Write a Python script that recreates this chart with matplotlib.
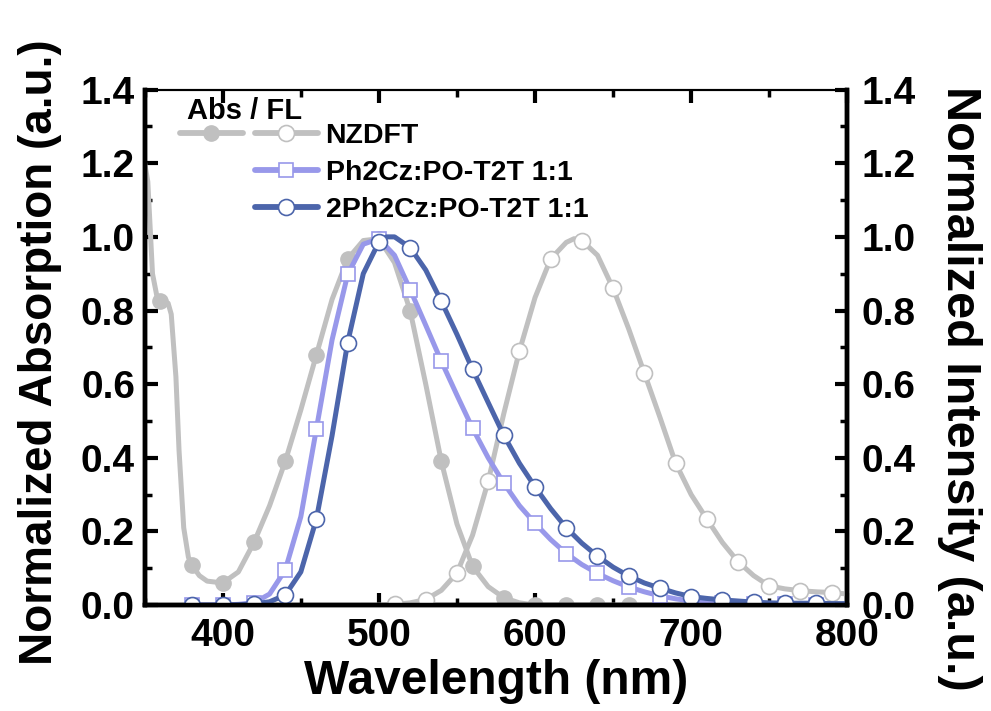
import matplotlib
matplotlib.use("Agg")
import matplotlib.pyplot as plt
from matplotlib.lines import Line2D
from matplotlib.legend_handler import HandlerTuple
from matplotlib.ticker import MultipleLocator
from matplotlib.font_manager import FontProperties, fontManager

plt.rcParams['font.family'] = ['Liberation Sans', 'DejaVu Sans']
plt.rcParams['font.weight'] = 'bold'

# ---- data ----
abs_wl = [350, 352, 355, 358, 360, 365, 367, 370, 372, 375, 378, 380, 385, 390, 400, 410, 420, 430, 440,
          450, 460, 470, 480, 490, 500, 510, 520, 530, 540, 550, 560, 570, 580, 590, 600, 620, 640,
          660, 680, 700, 720, 740, 760, 780, 800]
abs_val = [1.20, 1.15, 0.90, 0.835, 0.825, 0.82, 0.79, 0.62, 0.42, 0.21, 0.13, 0.11, 0.08, 0.065, 0.06, 0.09, 0.17, 0.27, 0.39,
           0.53, 0.68, 0.83, 0.94, 0.99, 0.995, 0.93, 0.80, 0.60, 0.39, 0.22, 0.105, 0.05, 0.02, 0.006, 0.0, 0.0, 0.0,
           0.0, 0.0, 0.0, 0.0, 0.0, 0.0, 0.0, 0.0]
abs_mark_wl = [360, 380, 400, 420, 440, 460, 480, 500, 520, 540, 560, 580, 600, 620, 640, 660, 680, 700, 720, 740, 760, 780]

fl_wl = [490, 500, 510, 520, 530, 540, 550, 560, 570, 580, 590, 600, 610, 620, 625, 630, 640, 650, 660, 670, 680,
         690, 700, 710, 720, 730, 740, 750, 760, 770, 780, 790, 800]
fl_val = [0.0, 0.0, 0.002, 0.006, 0.015, 0.04, 0.087, 0.19, 0.336, 0.52, 0.69, 0.835, 0.94, 0.985, 0.995, 0.99, 0.95, 0.86, 0.75, 0.63, 0.51,
          0.386, 0.30, 0.234, 0.17, 0.118, 0.08, 0.052, 0.044, 0.039, 0.036, 0.034, 0.03]
fl_mark_wl = [510, 530, 550, 570, 590, 610, 630, 650, 670, 690, 710, 730, 750, 770, 790]

ph_wl = [380, 390, 400, 410, 420, 430, 440, 450, 460, 470, 480, 490, 500, 510, 520, 530, 540, 550, 560, 570, 580,
         590, 600, 610, 620, 630, 640, 650, 660, 670, 680, 690, 700, 720, 740, 760, 780]
ph_val = [0.0, 0.0, 0.0, 0.002, 0.006, 0.03, 0.095, 0.24, 0.479, 0.72, 0.898, 0.98, 0.995, 0.95, 0.857, 0.76, 0.662, 0.57, 0.48, 0.40, 0.331,
          0.27, 0.222, 0.178, 0.14, 0.11, 0.086, 0.066, 0.049, 0.036, 0.025, 0.017, 0.011, 0.005, 0.003, 0.002, 0.001]
ph_mark_wl = [380, 400, 420, 440, 460, 480, 500, 520, 540, 560, 580, 600, 620, 640, 660, 680, 700, 720, 740, 760, 780]

dph_wl = [380, 390, 400, 410, 420, 430, 440, 450, 460, 470, 480, 490, 500, 505, 510, 520, 530, 540, 550, 560, 570, 580,
          590, 600, 610, 620, 630, 640, 650, 660, 670, 680, 690, 700, 710, 720, 730, 740, 750, 760, 770, 780, 790, 800]
dph_val = [0.0, 0.0, 0.0, 0.001, 0.003, 0.009, 0.027, 0.09, 0.234, 0.46, 0.713, 0.90, 0.986, 1.0, 1.0, 0.971, 0.91, 0.825, 0.735, 0.64, 0.55, 0.461,
           0.385, 0.321, 0.262, 0.21, 0.168, 0.133, 0.103, 0.079, 0.06, 0.046, 0.033, 0.023, 0.018, 0.014, 0.011, 0.008, 0.006, 0.005, 0.005, 0.005, 0.004, 0.004]
dph_mark_wl = [380, 400, 420, 440, 460, 480, 500, 520, 540, 560, 580, 600, 620, 640, 660, 680, 700, 720, 740, 760, 780]

labels = ["NZDFT", "Ph2Cz:PO-T2T 1:1", "2Ph2Cz:PO-T2T 1:1"]
legend_title = " Abs / FL"
x_ticks = [400, 500, 600, 700, 800]
y_ticks = [0.0, 0.2, 0.4, 0.6, 0.8, 1.0, 1.2, 1.4]

GRAY = '#c0c0c0'
PURPLE = '#9898ea'
BLUE = '#4c65ab'
LW = 3.6

installed = {f.name for f in fontManager.ttflist}
if 'Liberation Sans Narrow' in installed:
    YFAM = ['Liberation Sans Narrow', 'Liberation Sans', 'DejaVu Sans']
    YL_SIZE, YR_SIZE = 40, 42
else:
    YFAM = ['Liberation Sans', 'DejaVu Sans']
    YL_SIZE, YR_SIZE = 33, 35


def mark_idx(wl, mwl):
    s = set(mwl)
    return [i for i, w in enumerate(wl) if w in s]


fig = plt.figure(figsize=(9.91, 7.11), dpi=100)
ax = fig.add_axes([0.146, 0.149, 0.709, 0.725])

ax.plot(abs_wl, abs_val, color=GRAY, lw=LW, marker='o', ms=11, mfc=GRAY, mec=GRAY,
        markevery=mark_idx(abs_wl, abs_mark_wl), solid_joinstyle='round', zorder=2)
ax.plot(fl_wl, fl_val, color=GRAY, lw=LW, marker='o', ms=11.5, mfc='white', mec=GRAY, mew=1.2,
        markevery=mark_idx(fl_wl, fl_mark_wl), solid_joinstyle='round', zorder=3)
ax.plot(ph_wl, ph_val, color=PURPLE, lw=LW, marker='s', ms=10, mfc='white', mec=PURPLE, mew=1.2,
        markevery=mark_idx(ph_wl, ph_mark_wl), solid_joinstyle='round', zorder=4)
ax.plot(dph_wl, dph_val, color=BLUE, lw=LW, marker='o', ms=11.5, mfc='white', mec=BLUE, mew=1.2,
        markevery=mark_idx(dph_wl, dph_mark_wl), solid_joinstyle='round', zorder=5)

ax.set_xlim(350, 800)
ax.set_ylim(0, 1.4)
ax.set_xticks(x_ticks)
ax.set_yticks(y_ticks)
ax.xaxis.set_minor_locator(MultipleLocator(50))
ax.yaxis.set_minor_locator(MultipleLocator(0.1))
ax.set_yticklabels([f"{v:.1f}" for v in y_ticks])

for s in ['left', 'right', 'bottom']:
    ax.spines[s].set_linewidth(3.2)
ax.spines['top'].set_linewidth(1.5)

ax.tick_params(axis='both', which='major', direction='in', length=9, width=3, labelsize=28, pad=7)
ax.tick_params(axis='both', which='minor', direction='in', length=5, width=2.5)
ax.tick_params(axis='x', which='both', top=True, labeltop=False)
ax.tick_params(axis='x', which='major', pad=9)

ax2 = ax.twinx()
ax2.set_ylim(0, 1.4)
ax2.set_yticks(y_ticks)
ax2.set_yticklabels([f"{v:.1f}" for v in y_ticks])
ax2.yaxis.set_minor_locator(MultipleLocator(0.1))
ax2.tick_params(axis='y', which='major', direction='in', length=9, width=3, labelsize=28, pad=10)
ax2.tick_params(axis='y', which='minor', direction='in', length=5, width=2.5)
for s in ['left', 'right', 'bottom']:
    ax2.spines[s].set_linewidth(3.2)
ax2.spines['top'].set_linewidth(1.5)

ax.set_xlabel("Wavelength (nm)", fontsize=34.5, fontweight='bold')
ax.xaxis.set_label_coords(0.5, -0.104)
ax.set_ylabel("Normalized Absorption (a.u.)", fontsize=YL_SIZE, fontweight='bold', family=YFAM)
ax.yaxis.set_label_coords(-0.117, 0.49)
ax2.set_ylabel("Normalized Intensity (a.u.)", fontsize=YR_SIZE, fontweight='bold', family=YFAM,
               rotation=270, va='bottom', ha='center', rotation_mode='anchor')
ax2.yaxis.set_label_coords(1.128, 0.42)

# legend
h_abs = Line2D([], [], color=GRAY, lw=4.2, marker='o', ms=11, mfc=GRAY, mec=GRAY, solid_capstyle='round')
h_fl = Line2D([], [], color=GRAY, lw=4.2, marker='o', ms=11.5, mfc='white', mec=GRAY, mew=1.2, solid_capstyle='round')
h_ph = Line2D([], [], color=PURPLE, lw=4.2, marker='s', ms=10, mfc='white', mec=PURPLE, mew=1.2, solid_capstyle='round')
h_dph = Line2D([], [], color=BLUE, lw=4.2, marker='o', ms=11.5, mfc='white', mec=BLUE, mew=1.2, solid_capstyle='round')
h_blank = Line2D([], [], color='none', lw=0)

leg = ax2.legend([(h_abs, h_fl), (h_blank, h_ph), (h_blank, h_dph)], labels,
                 handler_map={tuple: HandlerTuple(ndivide=None, pad=0.42)},
                 loc='upper left', bbox_to_anchor=(0.05, 0.986), frameon=False,
                 prop=FontProperties(size=20.5, weight='bold'), handlelength=4.85, handletextpad=0.27,
                 labelspacing=0.38, borderpad=0.0, borderaxespad=0.0,
                 title=legend_title, title_fontproperties=FontProperties(size=21, weight='bold'),
                 alignment='left')
leg._legend_box.sep = -1

fig.savefig("out.png", dpi=100)
